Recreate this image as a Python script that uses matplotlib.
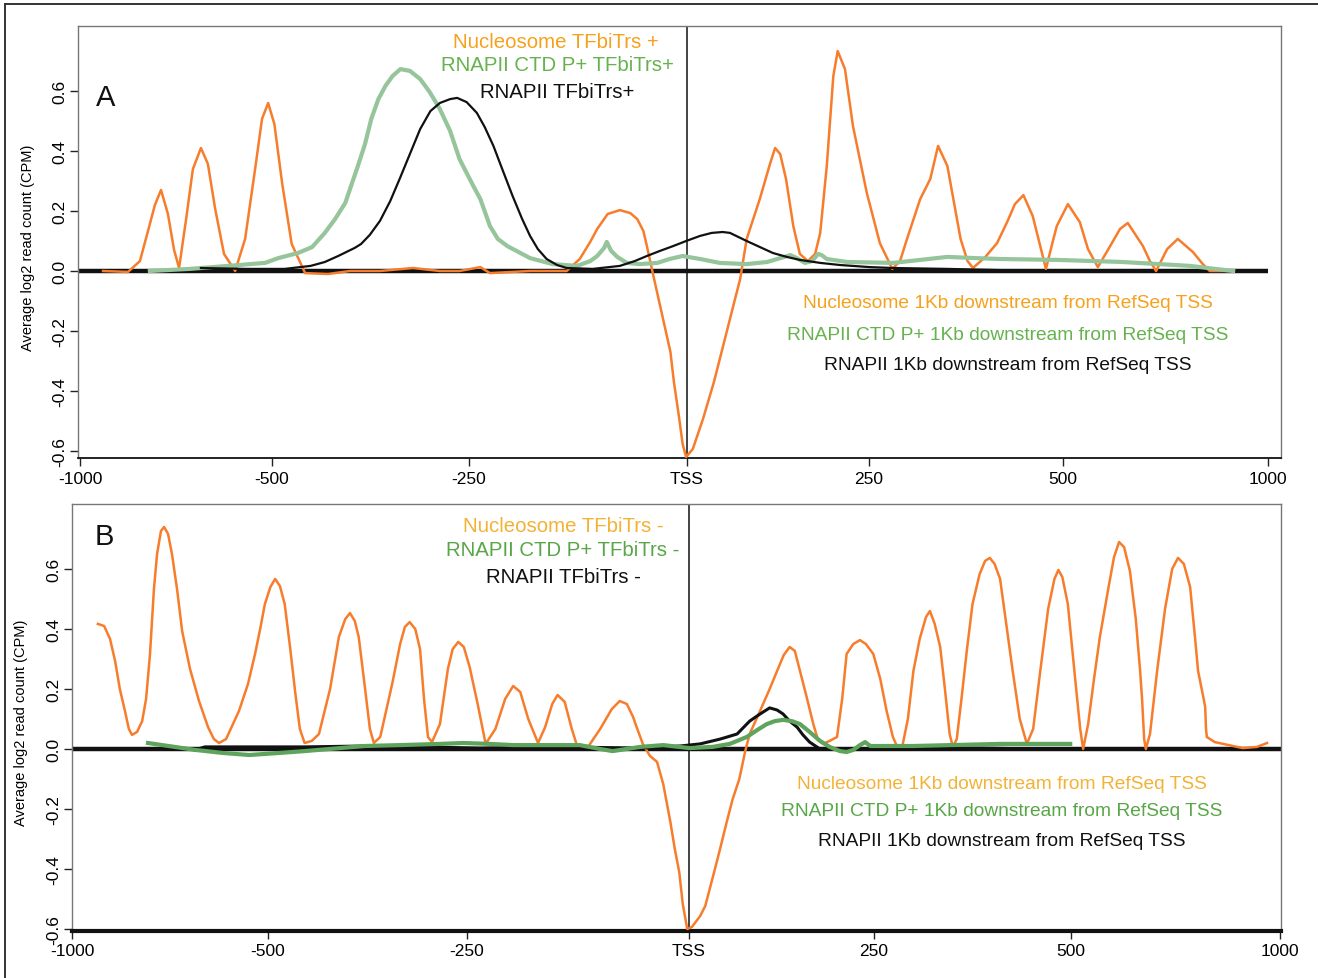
import numpy as np
import matplotlib
matplotlib.use("Agg")
import matplotlib.pyplot as plt
from matplotlib.lines import Line2D

plt.rcParams['font.family'] = ['Liberation Sans Narrow', 'Liberation Sans', 'DejaVu Sans']

# ---------------- data (bp relative to TSS, average log2 read count) ----------------
a_nuc_x = [-940, -875, -844, -818, -805, -789, -771, -755, -742, -724, -706, -685, -667, -648, -625, -596,
           -570, -544, -526, -510, -497, -487, -475, -458, -429, -401, -363, -321, -287, -262, -237, -226,
           -180, -138, -123, -111, -103, -91, -77, -65, -57, -50, -46, -39, -30, -19, -15, -9, -5, -1,
           8, 22, 37, 52, 66, 73, 82, 100, 114, 121, 128, 136, 146, 155, 166, 176, 183, 192, 201, 207,
           217, 228, 247, 264, 280, 290, 299, 316, 329, 339, 351, 361, 368, 377, 384, 400, 415, 428, 438,
           449, 461, 470, 478, 486, 492, 512, 541, 561, 585, 615, 639, 658, 695, 712, 727, 754, 780, 817,
           841, 858, 907]
a_nuc_y = [0.0, -0.003, 0.033, 0.157, 0.22, 0.27, 0.19, 0.07, 0.01, 0.17, 0.34, 0.41, 0.357, 0.207, 0.057, 0.0,
           0.107, 0.34, 0.507, 0.56, 0.49, 0.29, 0.09, -0.007, -0.01, 0.0, 0.0, 0.01, 0.0, 0.0, 0.013, -0.007,
           0.0, 0.0, 0.04, 0.097, 0.14, 0.19, 0.203, 0.193, 0.173, 0.133, 0.083, -0.01, -0.127, -0.27, -0.37, -0.49, -0.577, -0.62,
           -0.593, -0.493, -0.37, -0.227, -0.093, -0.027, 0.107, 0.24, 0.357, 0.41, 0.39, 0.307, 0.15, 0.057, 0.033, 0.057, 0.127, 0.35, 0.65, 0.733,
           0.673, 0.483, 0.26, 0.093, 0.007, 0.033, 0.107, 0.24, 0.307, 0.417, 0.35, 0.207, 0.107, 0.033, 0.01, 0.047, 0.093, 0.163, 0.223,
           0.253, 0.183, 0.09, 0.007, 0.09, 0.15, 0.223, 0.163, 0.073, 0.013, 0.083, 0.14, 0.16, 0.083, 0.033, 0.0, 0.073, 0.107, 0.063,
           0.023, 0.0, 0.0]

a_ctd_x = [-818, -714, -615, -518, -492, -467, -449, -433, -420, -407, -391, -382, -374, -365, -356, -347, -337,
           -325, -312, -300, -287, -274, -262, -245, -237, -226, -217, -206, -180, -154, -126, -111, -103, -95,
           -92, -87, -80, -69, -54, -34, -20, -5, 18, 45, 82, 110, 142, 151, 162, 172, 180, 185, 192, 220, 281,
           316, 351, 387, 419, 492, 646, 810, 915]
a_ctd_y = [0.0, 0.007, 0.017, 0.027, 0.043, 0.06, 0.08, 0.127, 0.173, 0.227, 0.35, 0.423, 0.507, 0.573, 0.617, 0.65, 0.673,
           0.667, 0.64, 0.597, 0.54, 0.467, 0.373, 0.283, 0.24, 0.15, 0.107, 0.083, 0.043, 0.023, 0.017, 0.033, 0.05, 0.077,
           0.097, 0.067, 0.047, 0.027, 0.023, 0.027, 0.04, 0.05, 0.04, 0.027, 0.023, 0.03, 0.053, 0.043, 0.027, 0.033, 0.057, 0.053, 0.04, 0.03, 0.027,
           0.037, 0.047, 0.043, 0.04, 0.037, 0.03, 0.017, 0.0]

a_pol_x = [-685, -570, -484, -451, -433, -416, -395, -387, -376, -363, -350, -338, -325, -312, -299, -287,
           -274, -265, -253, -241, -232, -222, -211, -200, -189, -180, -171, -161, -149, -138, -108, -77, -60,
           -46, -31, -16, -1, 18, 34, 49, 59, 82, 100, 118, 137, 155, 183, 210, 251, 281, 351, 419, 462]
a_pol_y = [0.01, 0.007, 0.007, 0.017, 0.03, 0.05, 0.077, 0.09, 0.12, 0.167, 0.233, 0.307, 0.39, 0.473, 0.533, 0.56,
           0.573, 0.577, 0.563, 0.527, 0.48, 0.417, 0.333, 0.25, 0.173, 0.117, 0.073, 0.04, 0.02, 0.01, 0.007, 0.017, 0.033,
           0.05, 0.067, 0.083, 0.1, 0.117, 0.127, 0.13, 0.127, 0.1, 0.08, 0.06, 0.047, 0.037, 0.027, 0.02, 0.013, 0.01, 0.007, 0.003, 0.003]

b_nuc_x = [-934, -918, -903, -890, -878, -865, -855, -847, -834, -821, -811, -801, -791, -783, -773, -765, -755,
           -745, -732, -719, -699, -676, -653, -638, -625, -607, -574, -551, -533, -520, -508, -497, -491, -485,
           -479, -472, -466, -460, -454, -445, -436, -422, -411, -403, -397, -391, -386, -378, -372, -367, -359,
           -344, -334, -328, -322, -315, -309, -304, -299, -294, -284, -274, -268, -261, -254, -247, -238, -229,
           -218, -207, -198, -190, -181, -170, -162, -154, -148, -140, -132, -126, -113, -100, -87, -78, -70,
           -63, -59, -52, -44, -36, -29, -21, -16, -11, -7, -2, 4, 15, 22, 34, 42, 51, 59, 68, 76, 82, 96,
           109, 119, 128, 136, 143, 150, 158, 168, 174, 181, 190, 200, 207, 213, 222, 231, 239, 249, 258, 266,
           274, 279, 286, 293, 300, 308, 316, 321, 327, 334, 340, 346, 350, 355, 361, 368, 375, 384, 391, 397,
           403, 410, 417, 426, 435, 444, 452, 461, 471, 479, 484, 489, 496, 510, 522, 529, 541, 555, 569, 589,
           603, 615, 627, 641, 655, 665, 670, 675, 679, 689, 706, 725, 742, 756, 770, 785, 797, 804, 816, 821,
           823, 825, 844, 864, 911, 945, 969]
b_nuc_y = [0.417, 0.41, 0.367, 0.293, 0.2, 0.127, 0.067, 0.047, 0.057, 0.093, 0.167, 0.317, 0.533, 0.65, 0.727, 0.74, 0.717,
           0.65, 0.533, 0.393, 0.267, 0.16, 0.073, 0.033, 0.02, 0.033, 0.127, 0.217, 0.317, 0.4, 0.483, 0.54, 0.567, 0.543,
           0.483, 0.333, 0.193, 0.067, 0.02, 0.027, 0.05, 0.2, 0.373, 0.433, 0.453, 0.427, 0.373, 0.2, 0.067, 0.02, 0.04,
           0.217, 0.35, 0.407, 0.423, 0.4, 0.333, 0.167, 0.04, 0.023, 0.083, 0.267, 0.333, 0.357, 0.34, 0.273, 0.15, 0.017,
           0.067, 0.167, 0.21, 0.19, 0.1, 0.02, 0.073, 0.15, 0.18, 0.157, 0.067, 0.01, 0.01, 0.067, 0.133, 0.16, 0.15,
           0.107, 0.073, 0.017, -0.023, -0.043, -0.117, -0.243, -0.333, -0.41, -0.517, -0.6, -0.593, -0.557, -0.523, -0.41, -0.333, -0.243, -0.167, -0.1, -0.007, 0.05, 0.127,
           0.2, 0.26, 0.313, 0.34, 0.327, 0.26, 0.183, 0.083, 0.033, 0.017, 0.027, 0.04, 0.167, 0.317, 0.35, 0.363, 0.35, 0.317, 0.233, 0.127,
           0.04, 0.01, 0.01, 0.1, 0.26, 0.367, 0.44, 0.46, 0.417, 0.34, 0.2, 0.05, 0.007, 0.033, 0.167, 0.333, 0.483, 0.583, 0.627, 0.637,
           0.617, 0.567, 0.433, 0.26, 0.1, 0.017, 0.067, 0.26, 0.467, 0.567, 0.597, 0.573, 0.483, 0.233, 0.067, 0.0, 0.083, 0.233, 0.373, 0.533,
           0.64, 0.69, 0.673, 0.593, 0.433, 0.267, 0.167, 0.033, 0.0, 0.05, 0.26, 0.467, 0.6, 0.637, 0.617, 0.54, 0.367, 0.26, 0.177, 0.14,
           0.067, 0.04, 0.023, 0.017, 0.003, 0.007, 0.02]

b_ctd_x = [-806, -686, -617, -548, -485, -454, -410, -378, -334, -284, -255, -224, -198, -123, -100, -86, -55,
           -29, 1, 32, 55, 78, 92, 105, 116, 127, 139, 150, 163, 177, 190, 204, 213, 222, 231, 238, 245, 258,
           300, 410, 499]
b_ctd_y = [0.02, -0.003, -0.013, -0.02, -0.013, -0.007, 0.003, 0.01, 0.013, 0.017, 0.02, 0.017, 0.013, 0.013, 0.0, -0.007, 0.007,
           0.013, 0.003, 0.007, 0.017, 0.04, 0.063, 0.083, 0.093, 0.097, 0.093, 0.083, 0.057, 0.027, 0.007, -0.007, -0.01, -0.003, 0.013, 0.023, 0.01, 0.01,
           0.01, 0.017, 0.017]

b_pol_x = [-686, -661, -520, -454, -378, -309, -235, -145, -55, -10, 15, 42, 65, 82, 92, 100, 109, 119, 127,
           136, 146, 154, 163, 177, 218, 283, 384, 464]
b_pol_y = [-0.003, 0.007, 0.007, 0.007, 0.01, 0.007, 0.003, 0.007, 0.003, 0.01, 0.017, 0.033, 0.05, 0.093, 0.11, 0.123, 0.137, 0.13, 0.117,
           0.093, 0.073, 0.047, 0.023, 0.0, 0.0, 0.003, 0.003, 0.0]

tick_bp = [-1000, -500, -250, 0, 250, 500, 1000]
tick_labels = ['-1000', '-500', '-250', 'TSS', '250', '500', '1000']
ytick_vals = [-0.6, -0.4, -0.2, 0.0, 0.2, 0.4, 0.6]
ytick_labels = ['-0.6', '-0.4', '-0.2', '0.0', '0.2', '0.4', '0.6']

# the original x axis is not linear in bp: tick positions (figure pixels) per panel
tick_px_a = [80, 272, 469, 687, 869, 1063, 1268]
tick_px_b = [72, 268, 467, 689, 874, 1071, 1280]

W, H = 1318, 979

C_NUC = '#f77c2c'
C_CTD_A = '#96c49b'
C_CTD_B = '#5ea45c'
T_NUC_A = '#f6a11c'
T_NUC_B = '#f3b235'
T_CTD_A = '#65b24e'
T_CTD_B = '#58a648'


def piecewise(src, dst):
    src = np.asarray(src, float)
    dst = np.asarray(dst, float)
    s0 = (dst[1] - dst[0]) / (src[1] - src[0])
    s1 = (dst[-1] - dst[-2]) / (src[-1] - src[-2])

    def f(x):
        x = np.asarray(x, float)
        y = np.interp(x, src, dst)
        y = np.where(x < src[0], dst[0] + (x - src[0]) * s0, y)
        y = np.where(x > src[-1], dst[-1] + (x - src[-1]) * s1, y)
        return y
    return f


def setup_axes(rect, tick_px, box_px, ylim, bottom_lw):
    ax = fig.add_axes(rect)
    fwd = piecewise(tick_bp, tick_px)
    inv = piecewise(tick_px, tick_bp)
    ax.set_xscale('function', functions=(fwd, inv))
    ax.set_xlim(float(inv(box_px[0])), float(inv(box_px[1])))
    ax.set_ylim(*ylim)
    ax.set_xticks(tick_bp)
    ax.set_xticklabels(tick_labels, fontsize=12.5)
    ax.set_yticks(ytick_vals)
    ax.set_yticklabels(ytick_labels, fontsize=12.5, rotation=90, va='center')
    ax.tick_params(axis='both', length=6, width=1.0, color='#222222')
    ax.tick_params(axis='x', pad=3)
    ax.tick_params(axis='y', pad=2)
    ax.minorticks_off()
    for s in ax.spines.values():
        s.set_color('#777777')
        s.set_linewidth(1.0)
    ax.spines['bottom'].set_color('#111111')
    ax.spines['bottom'].set_linewidth(bottom_lw)
    ax.set_ylabel('Average log2 read count (CPM)', fontsize=10.5,
                  family=['Liberation Sans', 'DejaVu Sans'])
    return ax


fig = plt.figure(figsize=(W / 100, H / 100), dpi=100)

# ---------------- Panel A ----------------
box_a = (78, 1281, 27, 459)
zero_a = 272
scale = 300.0
ylim_a = (-(box_a[3] - zero_a) / scale, (zero_a - box_a[2]) / scale)
rect_a = [box_a[0] / W, 1 - box_a[3] / H, (box_a[1] - box_a[0]) / W, (box_a[3] - box_a[2]) / H]
axA = setup_axes(rect_a, tick_px_a, box_a[:2], ylim_a, 1.3)
axA.yaxis.set_label_coords(-0.036, 0.49)
axA.axvline(0, color='#111111', lw=1.1, zorder=1)
axA.hlines(0, axA.get_xlim()[0], 1000, color='#111111', lw=3.2, zorder=2)
axA.plot(a_nuc_x, a_nuc_y, color=C_NUC, lw=1.8, zorder=3, solid_joinstyle='round')
axA.plot(a_ctd_x, a_ctd_y, color=C_CTD_A, lw=3.0, zorder=4, solid_joinstyle='round')
axA.plot(a_pol_x, a_pol_y, color='#111111', lw=1.6, zorder=5, solid_joinstyle='round')

# ---------------- Panel B ----------------
box_b = (72, 1281, 505, 932)
zero_b = 750
ylim_b = (-(box_b[3] - zero_b) / scale, (zero_b - box_b[2]) / scale)
rect_b = [box_b[0] / W, 1 - box_b[3] / H, (box_b[1] - box_b[0]) / W, (box_b[3] - box_b[2]) / H]
axB = setup_axes(rect_b, tick_px_b, box_b[:2], ylim_b, 3.0)
axB.yaxis.set_label_coords(-0.036, 0.49)
axB.axvline(0, color='#111111', lw=1.1, zorder=1)
axB.axhline(0, color='#111111', lw=3.2, zorder=2)
axB.plot(b_nuc_x, b_nuc_y, color=C_NUC, lw=1.8, zorder=3, solid_joinstyle='round')
axB.plot(b_pol_x, b_pol_y, color='#111111', lw=2.2, zorder=4, solid_joinstyle='round')
axB.plot(b_ctd_x, b_ctd_y, color=C_CTD_B, lw=3.0, zorder=5, solid_joinstyle='round')

# ---------------- texts ----------------
def ftext(x, y, s, color, size):
    fig.text(x / W, 1 - y / H, s, color=color, fontsize=size, ha='center', va='center')

UP = 14.7
LOW = 13.8
ftext(106, 98, 'A', '#111111', 21)
ftext(556, 42, 'Nucleosome TFbiTrs +', T_NUC_A, UP)
ftext(557, 66, 'RNAPII CTD P+ TFbiTrs+', T_CTD_A, UP)
ftext(557, 93, 'RNAPII TFbiTrs+', '#111111', UP)
ftext(1008, 303, 'Nucleosome 1Kb downstream from RefSeq TSS', T_NUC_A, LOW)
ftext(1008, 335, 'RNAPII CTD P+ 1Kb downstream from RefSeq TSS', T_CTD_A, LOW)
ftext(1008, 366, 'RNAPII 1Kb downstream from RefSeq TSS', '#111111', LOW)

ftext(104, 537, 'B', '#111111', 21)
ftext(563, 527, 'Nucleosome TFbiTrs -', T_NUC_B, UP)
ftext(563, 551, 'RNAPII CTD P+ TFbiTrs -', T_CTD_B, UP)
ftext(563, 578, 'RNAPII TFbiTrs -', '#111111', UP)
ftext(1002, 785, 'Nucleosome 1Kb downstream from RefSeq TSS', T_NUC_B, LOW)
ftext(1002, 812, 'RNAPII CTD P+ 1Kb downstream from RefSeq TSS', T_CTD_B, LOW)
ftext(1002, 842, 'RNAPII 1Kb downstream from RefSeq TSS', '#111111', LOW)

# outer frame (top and left edges visible)
fig.add_artist(Line2D([5 / W, 1.0], [1 - 5 / H, 1 - 5 / H], color='#333333', lw=1.4))
fig.add_artist(Line2D([5 / W, 5 / W], [0.0, 1 - 5 / H], color='#333333', lw=1.4))

fig.savefig('out.png', dpi=100)
